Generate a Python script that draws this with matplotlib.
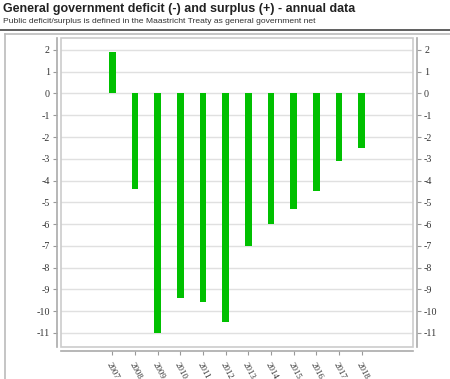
import matplotlib.pyplot as plt
import matplotlib.patches as mpatches
import numpy as np

years = ["2007", "2008", "2009", "2010", "2011", "2012",
         "2013", "2014", "2015", "2016", "2017", "2018"]
balance = [1.9, -4.4, -11.0, -9.4, -9.6, -10.5, -7.0, -6.0, -5.3, -4.5, -3.1, -2.5]
yticks = list(range(-11, 3))

W, H = 450, 379
fig = plt.figure(figsize=(W / 100, H / 100), dpi=100)

def px(x0, y0, x1, y1):
    # pixel box (top-left origin) -> figure fraction
    return [x0 / W, 1 - y1 / H, (x1 - x0) / W, (y1 - y0) / H]

# titre
fig.text(3 / W, 1 - 3 / H, "General government deficit (-) and surplus (+) - annual data",
         fontsize=9.0, fontweight="bold", family="Liberation Sans", va="top", ha="left",
         color="#222222")
fig.text(3 / W, 1 - 18 / H,
         "Public deficit/surplus is defined in the Maastricht Treaty as general government net",
         fontsize=6.1, family="Liberation Sans", va="top", ha="left", color="#333333")
fig.add_artist(plt.Line2D([0, 1], [1 - 30 / H, 1 - 30 / H], color="#444444", lw=1.2))
# cadre gris
fig.add_artist(plt.Line2D([5 / W, 1], [1 - 33.5 / H, 1 - 33.5 / H], color="#bbbbbb", lw=1.2))
fig.add_artist(plt.Line2D([5 / W, 5 / W], [0, 1 - 33.5 / H], color="#bbbbbb", lw=1.2))

ax = fig.add_axes(px(61, 38, 413, 347))
x = np.arange(len(years))
ax.bar(x, balance, width=0.3, color="#00c000", zorder=3)

ax.set_xlim(-2.27, len(years) - 1 + 2.27)
ax.set_ylim(-11.65, 2.55)
ax.set_yticks(yticks)
ax.set_yticklabels([str(v) for v in yticks])
ax.grid(axis="y", color="#e0e0e0", lw=1, zorder=0)

# boite claire autour du graphique
ax.add_patch(mpatches.Rectangle((0, 0), 1, 1, transform=ax.transAxes, fill=False,
                                edgecolor="#cccccc", lw=1.2, zorder=4, clip_on=False))

ax.spines["top"].set_visible(False)
for s in ["left", "right", "bottom"]:
    ax.spines[s].set_position(("outward", 3))
    ax.spines[s].set_color("#aaaaaa")
    ax.spines[s].set_linewidth(1.2)

ax.tick_params(axis="y", which="both", left=True, right=True, labelleft=True,
               labelright=True, length=3, color="#999999", labelsize=7.2, pad=2,
               labelcolor="#333333")
for lab in ax.get_yticklabels():
    lab.set_family("Liberation Serif")

ax.set_xticks(x)
ax.set_xticklabels(years, rotation=-62, ha="left", va="top", rotation_mode="anchor",
                   family="Liberation Serif", fontsize=6.5, color="#333333")
ax.tick_params(axis="x", length=3, color="#999999", pad=4)

fig.savefig("out.png", dpi=100)
